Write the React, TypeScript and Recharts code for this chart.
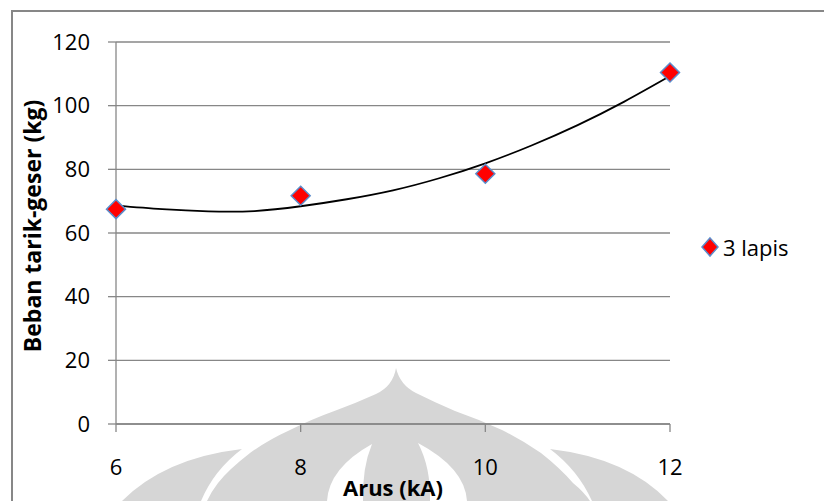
import { ComposedChart, Line, Scatter, XAxis, YAxis, CartesianGrid } from 'recharts';

// measured points (Arus kA -> Beban kg)
const currentKA = [6, 8, 10, 12];
const loadKg = [67.5, 71.7, 78.6, 110.4];

// polynomial trendline as drawn in the sheet, read at half steps
const trendKA = [6, 6.5, 7, 7.5, 8, 8.5, 9, 9.5, 10, 10.5, 11, 11.5, 12];
const trendKg = [68.6, 67.5, 66.8, 66.9, 68.4, 70.6, 73.4, 77.2, 81.9, 87.5, 93.9, 101.2, 109.3];

const xTicks = [6, 8, 10, 12];
const yTicks = [0, 20, 40, 60, 80, 100, 120];

const seriesName = '3 lapis';

const points = currentKA.map((x, i) => ({ x, y: loadKg[i] }));
const trend = trendKA.map((x, i) => ({ x, y: trendKg[i] }));

const GRID = '#878787';
const MARK = '#D6D6D6';
const FONT = '"Open Sans", sans-serif';

function Diamond(props: any) {
  const { cx, cy } = props;
  if (cx == null || cy == null) return null;
  const r = 9.5;
  return (
    <path
      d={`M${cx},${cy - r} L${cx + r},${cy} L${cx},${cy + r} L${cx - r},${cy} Z`}
      fill="#FF0000"
      stroke="#5B8CCB"
      strokeWidth={1.5}
    />
  );
}

// faint page watermark behind the chart (scanned document)
function Watermark() {
  return (
    <svg width={824} height={501} style={{ position: 'absolute', left: 0, top: 0 }}>
      <path
        d="M396,368 Q393,386 376,394 Q356,403 337,410 Q312,419 290,430 Q268,440 250,453 Q228,470 218,483 Q211,492 207,501
           L590,501 Q584,492 573,483 Q560,468 541,453 Q522,440 502,430 Q478,419 455,411 Q434,402 416,393 Q400,385 396,368 Z"
        fill={MARK}
      />
      <path d="M327,501 Q329,468 372,444 Q362,468 363,501 Z" fill="#fff" />
      <path d="M467,501 Q465,468 418,443 Q431,468 430,501 Z" fill="#fff" />
      <path d="M242,449 Q165,458 122,501 L201,501 Q214,470 242,449 Z" fill={MARK} />
      <path d="M550,449 Q627,458 668,501 L592,501 Q578,470 550,449 Z" fill={MARK} />
    </svg>
  );
}

export default function App() {
  return (
    <div style={{ position: 'relative', width: 824, height: 501, overflow: 'hidden', background: '#fff', fontFamily: FONT }}>
      <style>{'body{margin:0;overflow:hidden}'}</style>
      <Watermark />
      <div
        style={{
          position: 'absolute',
          left: 11,
          top: 10,
          width: 840,
          height: 520,
          borderTop: `2px solid ${GRID}`,
          borderLeft: `2px solid ${GRID}`,
        }}
      />
      <ComposedChart
        width={824}
        height={501}
        margin={{ top: 42, right: 154, bottom: 0, left: 16 }}
        style={{ position: 'absolute', left: 0, top: 0 }}
      >
        <CartesianGrid horizontal vertical={false} stroke={GRID} strokeWidth={1.3} />
        <XAxis
          type="number"
          dataKey="x"
          domain={[6, 12]}
          ticks={xTicks}
          height={77}
          stroke={GRID}
          strokeWidth={1.3}
          tickSize={8}
          tickMargin={27}
          tick={{ fill: '#000', fontSize: 22, fontFamily: FONT }}
          label={{
            content: ({ viewBox }: any) => (
              <text
                x={viewBox.x + viewBox.width / 2}
                y={viewBox.y + 72}
                textAnchor="middle"
                fontSize={22}
                fontWeight="bold"
                fontFamily={FONT}
                fill="#000"
              >
                Arus (kA)
              </text>
            ),
          }}
        />
        <YAxis
          type="number"
          dataKey="y"
          domain={[0, 120]}
          ticks={yTicks}
          width={100}
          stroke={GRID}
          strokeWidth={1.3}
          tickSize={8}
          tickMargin={18}
          tick={{ fill: '#000', fontSize: 22, fontFamily: FONT }}
          label={{
            content: ({ viewBox }: any) => {
              const x = viewBox.x + 25;
              const y = viewBox.y + viewBox.height / 2 - 7;
              return (
                <text
                  x={x}
                  y={y}
                  transform={`rotate(-90, ${x}, ${y})`}
                  textAnchor="middle"
                  fontSize={23}
                  fontWeight="bold"
                  fontFamily={FONT}
                  fill="#000"
                >
                  Beban tarik-geser (kg)
                </text>
              );
            },
          }}
        />
        <Line
          data={trend}
          dataKey="y"
          type="natural"
          stroke="#000"
          strokeWidth={1.8}
          dot={false}
          activeDot={false}
          isAnimationActive={false}
        />
        <Scatter data={points} dataKey="y" name={seriesName} shape={Diamond} isAnimationActive={false} />
      </ComposedChart>
      <div style={{ position: 'absolute', left: 698, top: 233, display: 'flex', alignItems: 'center' }}>
        <svg width={24} height={24}>
          <path d="M12,3 L20,12 L12,21 L4,12 Z" fill="#FF0000" stroke="#5B8CCB" strokeWidth={1.5} />
        </svg>
        <span style={{ fontSize: 22, lineHeight: '28px', marginLeft: 1, color: '#000' }}>{seriesName}</span>
      </div>
    </div>
  );
}
